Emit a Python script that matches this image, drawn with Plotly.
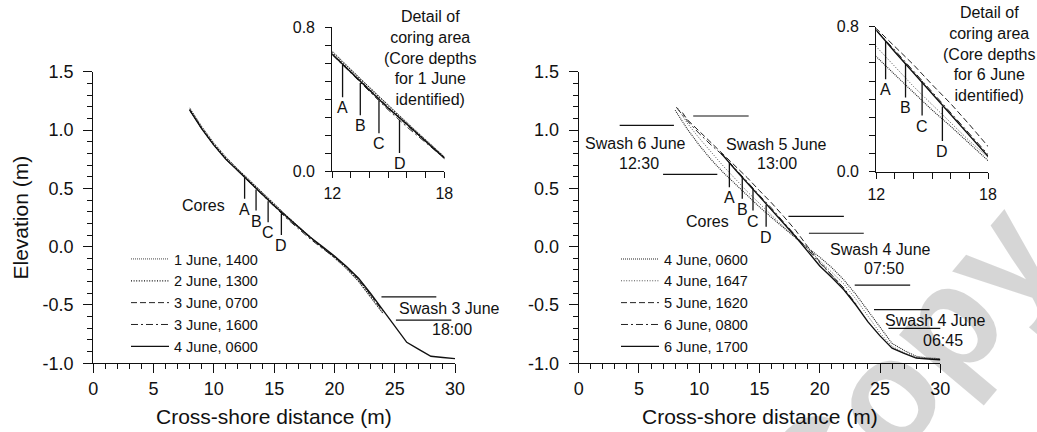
import plotly.graph_objects as go

# ---------------- data ----------------
# Left panel (1-4 June)
L_X_FULL = [8, 9, 10, 11, 12, 13, 14, 15, 16, 17, 18, 19, 20, 21, 22, 23, 24, 25, 26, 27, 28, 29, 30]
L_X_SHORT = [8, 9, 10, 11, 12, 13, 14, 15, 16, 17, 18, 19, 20, 21, 22, 23, 24]
L_1J1400 = [1.19, 1.03, 0.89, 0.77, 0.665, 0.565, 0.465, 0.365, 0.27, 0.175, 0.085, -0.005, -0.095, -0.19, -0.30, -0.43, -0.57]
L_2J1300 = [1.18, 1.02, 0.88, 0.76, 0.66, 0.56, 0.46, 0.36, 0.265, 0.17, 0.08, -0.01, -0.09, -0.185, -0.295, -0.425, -0.565]
L_3J0700 = [1.17, 1.01, 0.87, 0.75, 0.65, 0.55, 0.45, 0.35, 0.255, 0.165, 0.075, -0.005, -0.085, -0.175, -0.28, -0.41, -0.55]
L_3J1600 = [1.17, 1.01, 0.87, 0.75, 0.648, 0.545, 0.443, 0.34, 0.245, 0.155, 0.065, -0.015, -0.09, -0.18, -0.285, -0.415, -0.55]
L_4J0600 = [1.17, 1.01, 0.87, 0.75, 0.65, 0.55, 0.45, 0.35, 0.26, 0.17, 0.08, 0.0, -0.08, -0.17, -0.27, -0.40, -0.54, -0.68, -0.82, -0.88, -0.94, -0.95, -0.96]

# Right panel (4-6 June)
R_X_4J0600 = [8, 9, 10, 11, 12, 13, 14, 15, 16, 17, 18, 19, 20, 21, 22, 23, 24, 25, 26, 27, 28, 29, 30]
R_4J0600 = [1.17, 1.01, 0.87, 0.745, 0.635, 0.535, 0.435, 0.34, 0.25, 0.16, 0.075, -0.01, -0.09, -0.18, -0.285, -0.41, -0.545, -0.69, -0.83, -0.89, -0.94, -0.955, -0.96]
R_X_4J1647 = [8.2, 9, 10, 11, 12, 13, 14, 15, 16, 17, 18, 19, 20, 21, 22, 23, 24, 25, 26, 27, 28, 29, 30]
R_4J1647 = [1.19, 1.06, 0.93, 0.81, 0.69, 0.58, 0.47, 0.37, 0.27, 0.17, 0.08, -0.02, -0.12, -0.22, -0.32, -0.45, -0.59, -0.74, -0.855, -0.91, -0.95, -0.96, -0.965]
R_X_5J1620 = [8.6, 9, 10, 11, 12, 13, 14, 15, 16, 17, 18, 19, 20, 21, 22]
R_5J1620 = [1.15, 1.09, 0.99, 0.89, 0.785, 0.69, 0.59, 0.48, 0.375, 0.26, 0.14, 0.0, -0.13, -0.245, -0.355]
R_X_6J0800 = [8.1, 9, 10, 11, 12, 13, 14, 15, 16, 17, 18, 19, 20, 21, 22, 23]
R_6J0800 = [1.195, 1.08, 0.97, 0.87, 0.78, 0.67, 0.555, 0.44, 0.33, 0.21, 0.095, -0.025, -0.14, -0.245, -0.355, -0.49]
R_X_6J1700 = [11.8, 12, 13, 14, 15, 16, 17, 18, 19, 20, 21, 22, 23, 24, 25, 26, 27, 28, 29, 30]
R_6J1700 = [0.80, 0.78, 0.66, 0.545, 0.43, 0.315, 0.195, 0.085, -0.04, -0.165, -0.265, -0.37, -0.50, -0.645, -0.765, -0.87, -0.915, -0.955, -0.963, -0.97]

# Cores
CORE_LABELS = ["A", "B", "C", "D"]
L_CORE_X = [12.55, 13.5, 14.5, 15.6]
L_CORE_TOP = [0.59, 0.49, 0.39, 0.285]
L_CORE_BOT = [0.41, 0.31, 0.21, 0.10]
R_CORE_X = [12.5, 13.57, 14.46, 15.55]
R_CORE_TOP = [0.72, 0.60, 0.50, 0.36]
R_CORE_BOT = [0.51, 0.41, 0.31, 0.17]

# Swash limits (x start, x end, elevation)
L_SWASH_X0 = [23.9, 25.1]
L_SWASH_X1 = [28.45, 29.7]
L_SWASH_Y = [-0.43, -0.63]
R_SWASH_X0 = [3.4, 7.0, 9.5, 17.4, 19.1, 22.9, 24.5, 25.7]
R_SWASH_X1 = [7.9, 11.5, 14.1, 22.0, 23.65, 27.5, 29.1, 30.3]
R_SWASH_Y = [1.04, 0.62, 1.12, 0.26, 0.115, -0.33, -0.54, -0.70]

# Swash labels (text, x, y)
L_SWASH_TXT = ["Swash 3 June", "18:00"]
L_SWASH_TX = [29.55, 29.76]
L_SWASH_TY = [-0.53, -0.71]
R_SWASH_TXT = ["Swash 6 June", "12:30", "Swash 5 June", "13:00", "Swash 4 June", "07:50", "Swash 4 June", "06:45"]
R_SWASH_TX = [4.70, 4.98, 16.43, 16.48, 25.07, 25.34, 29.64, 30.19]
R_SWASH_TY = [0.886, 0.715, 0.88, 0.715, -0.022, -0.19, -0.634, -0.805]

# Axis ticks
MAIN_XTICKS = [0, 5, 10, 15, 20, 25, 30]
MAIN_YTICKS = [-1.0, -0.5, 0.0, 0.5, 1.0, 1.5]
MAIN_YTEXT = ["-1.0", "-0.5", "0.0", "0.5", "1.0", "1.5"]
INSET_XTICKS = [12, 13, 14, 15, 16, 17, 18]
INSET_XTEXT = ["12", "", "", "", "", "", "18"]
INSET_YTICKS = [0.0, 0.1, 0.2, 0.3, 0.4, 0.5, 0.6, 0.7, 0.8]
INSET_YTEXT = ["0.0", "", "", "", "", "", "", "", "0.8"]

FONT = "Liberation Sans, Arial, sans-serif"
W, H = 1037, 432

DOT1 = "1px,1px"
DOT2 = "1px,1.6px"
DASH = "6px,3px"
DASHDOT = "7px,3px,2px,3px"

left_series = [
    ("1 June, 1400", L_X_SHORT, L_1J1400, DOT1, 1.0, "#444"),
    ("2 June, 1300", L_X_SHORT, L_2J1300, DOT2, 1.2, "#111"),
    ("3 June, 0700", L_X_SHORT, L_3J0700, DASH, 1.0, "#222"),
    ("3 June, 1600", L_X_SHORT, L_3J1600, DASHDOT, 1.0, "#222"),
    ("4 June, 0600", L_X_FULL, L_4J0600, "solid", 1.4, "#111"),
]
right_series = [
    ("4 June, 0600", R_X_4J0600, R_4J0600, DOT1, 1.1, "#222"),
    ("4 June, 1647", R_X_4J1647, R_4J1647, DOT2, 1.0, "#555"),
    ("5 June, 1620", R_X_5J1620, R_5J1620, DASH, 1.0, "#222"),
    ("6 June, 0800", R_X_6J0800, R_6J0800, DASHDOT, 1.0, "#222"),
    ("6 June, 1700", R_X_6J1700, R_6J1700, "solid", 1.4, "#111"),
]

fig = go.Figure()


def add_series(series, xa, ya, legend, show):
    for name, xs, ys, dash, w, c in series:
        fig.add_trace(go.Scatter(
            x=xs, y=ys, mode="lines", name=name,
            line=dict(color=c, width=w, dash=dash),
            xaxis=xa, yaxis=ya, legend=legend, showlegend=show,
            hoverinfo="skip"))


def add_cores(cx, ctop, cbot, xa, ya):
    xs, ys = [], []
    for x, t, b in zip(cx, ctop, cbot):
        xs += [x, x, None]
        ys += [t, b, None]
    fig.add_trace(go.Scatter(x=xs, y=ys, mode="lines", showlegend=False,
                             line=dict(color="#111", width=1.3),
                             xaxis=xa, yaxis=ya, hoverinfo="skip"))


def add_swash(x0s, x1s, ys_, xa, ya):
    xs, ys = [], []
    for a, b, y in zip(x0s, x1s, ys_):
        xs += [a, b, None]
        ys += [y, y, None]
    fig.add_trace(go.Scatter(x=xs, y=ys, mode="lines", showlegend=False,
                             line=dict(color="#111", width=1.2),
                             xaxis=xa, yaxis=ya, hoverinfo="skip"))


add_series(left_series, "x", "y", "legend", True)
add_series(right_series, "x2", "y2", "legend2", True)
add_series(left_series, "x3", "y3", "legend", False)
add_series(right_series, "x4", "y4", "legend2", False)
add_cores(L_CORE_X, L_CORE_TOP, L_CORE_BOT, "x", "y")
add_cores(R_CORE_X, R_CORE_TOP, R_CORE_BOT, "x2", "y2")
add_cores(L_CORE_X, L_CORE_TOP, L_CORE_BOT, "x3", "y3")
add_cores(R_CORE_X, R_CORE_TOP, R_CORE_BOT, "x4", "y4")
add_swash(L_SWASH_X0, L_SWASH_X1, L_SWASH_Y, "x", "y")
add_swash(R_SWASH_X0, R_SWASH_X1, R_SWASH_Y, "x2", "y2")


def px_x(p):
    return p / W


def px_y(p):
    return 1 - p / H


main_common = dict(showline=True, linecolor="#111", linewidth=1.3, showgrid=False,
                   zeroline=False, ticks="outside", tickcolor="#111", tickwidth=1.2,
                   ticklen=9, automargin=False,
                   tickfont=dict(size=18, color="#111", family=FONT))
main_x = dict(main_common, range=[0, 30], tickvals=MAIN_XTICKS,
              ticktext=[str(v) for v in MAIN_XTICKS], ticklabelstandoff=0,
              minor=dict(dtick=1, tick0=0, ticklen=5, ticks="outside", tickcolor="#111", tickwidth=1.2))
main_y = dict(main_common, range=[-1.0, 1.5], tickvals=MAIN_YTICKS, ticktext=MAIN_YTEXT,
              ticklabelstandoff=6,
              minor=dict(dtick=0.1, tick0=-1.0, ticklen=5, ticks="outside", tickcolor="#111", tickwidth=1.2))
inset_common = dict(showline=True, linecolor="#111", linewidth=1.2, showgrid=False,
                    zeroline=False, ticks="outside", tickcolor="#111", tickwidth=1.1,
                    ticklen=6, automargin=False,
                    tickfont=dict(size=16, color="#111", family=FONT))
inset_x = dict(inset_common, range=[12, 18], tickvals=INSET_XTICKS, ticktext=INSET_XTEXT,
               ticklabelstandoff=2)
inset_y = dict(inset_common, range=[0, 0.8], tickvals=INSET_YTICKS, ticktext=INSET_YTEXT,
               ticklabelstandoff=7)

LEG_FONT = dict(size=14.5, family=FONT, color="#111")
fig.update_layout(
    width=W, height=H,
    margin=dict(l=0, r=0, t=0, b=0, autoexpand=False),
    paper_bgcolor="white", plot_bgcolor="rgba(0,0,0,0)",
    font=dict(family=FONT, color="#111", size=16),
    xaxis=dict(main_x, domain=[px_x(93.3), px_x(455)], anchor="y"),
    yaxis=dict(main_y, domain=[px_y(363.3), px_y(71.7)], anchor="x"),
    xaxis2=dict(main_x, domain=[px_x(578.7), px_x(940.3)], anchor="y2"),
    yaxis2=dict(main_y, domain=[px_y(363.3), px_y(71.7)], anchor="x2"),
    xaxis3=dict(inset_x, domain=[px_x(332.3), px_x(444.3)], anchor="y3"),
    yaxis3=dict(inset_y, domain=[px_y(171), px_y(27.3)], anchor="x3"),
    xaxis4=dict(inset_x, domain=[px_x(876.3), px_x(988)], anchor="y4"),
    yaxis4=dict(inset_y, domain=[px_y(171.7), px_y(26.7)], anchor="x4"),
    legend=dict(x=px_x(126), y=px_y(243), xanchor="left", yanchor="top",
                bgcolor="rgba(0,0,0,0)", itemwidth=38, tracegroupgap=0, font=LEG_FONT),
    legend2=dict(x=px_x(616), y=px_y(243), xanchor="left", yanchor="top",
                 bgcolor="rgba(0,0,0,0)", itemwidth=38, tracegroupgap=0, font=LEG_FONT),
    showlegend=True,
)

ann = []


def pann(text, x, y, size, **kw):
    d = dict(text=text, xref="paper", yref="paper", x=px_x(x), y=px_y(y),
             xanchor="center", yanchor="middle", showarrow=False, font=dict(size=size))
    d.update(kw)
    return d


# axis titles
ann.append(pann("Cross-shore distance (m)", 274, 416.7, 21))
ann.append(pann("Cross-shore distance (m)", 759.5, 416.7, 21))
ann.append(pann("Elevation (m)", 20, 217.5, 21, textangle=-90))
# inset titles
ann.append(pann("Detail of<br>coring area<br>(Core depths<br>for 1 June<br>identified)", 430, 58, 16))
ann.append(pann("Detail of<br>coring area<br>(Core depths<br>for 6 June<br>identified)", 989, 54.2, 16))
# core labels
for xa, ya, cx, cb in [("x", "y", L_CORE_X, L_CORE_BOT), ("x2", "y2", R_CORE_X, R_CORE_BOT),
                       ("x3", "y3", L_CORE_X, L_CORE_BOT), ("x4", "y4", R_CORE_X, R_CORE_BOT)]:
    for lab, x, b in zip(CORE_LABELS, cx, cb):
        ann.append(dict(text=lab, xref=xa, yref=ya, x=x, y=b, xanchor="center", yanchor="top",
                        showarrow=False, font=dict(size=16)))
ann.append(dict(text="Cores", xref="x", yref="y", x=9.1, y=0.35, xanchor="center",
                yanchor="middle", showarrow=False, font=dict(size=16)))
ann.append(dict(text="Cores", xref="x2", yref="y2", x=10.7, y=0.215, xanchor="center",
                yanchor="middle", showarrow=False, font=dict(size=16)))
# swash labels (labels beyond the axis end are anchored at the axis end and shifted)
X_MAX = 30.0
PX_PER_UNIT = (940.3 - 578.7) / 30.0
for t, x, y in zip(L_SWASH_TXT, L_SWASH_TX, L_SWASH_TY):
    ann.append(dict(text=t, xref="x", yref="y", x=min(x, X_MAX), y=y,
                    xshift=max(0.0, x - X_MAX) * PX_PER_UNIT,
                    xanchor="center", yanchor="middle", showarrow=False, font=dict(size=16)))
for t, x, y in zip(R_SWASH_TXT, R_SWASH_TX, R_SWASH_TY):
    ann.append(dict(text=t, xref="x2", yref="y2", x=min(x, X_MAX), y=y,
                    xshift=max(0.0, x - X_MAX) * PX_PER_UNIT,
                    xanchor="center", yanchor="middle", showarrow=False, font=dict(size=16)))
# watermark
ann.append(pann("<b>Copy</b>", 905, 370, 150, textangle=-50,
                font=dict(size=150, color="rgba(0,0,0,0.16)", family=FONT)))

fig.update_layout(annotations=ann)

fig.write_html("out.html", config={"displayModeBar": False},
               post_script="document.body.style.margin='0px';document.body.style.padding='0px';")
